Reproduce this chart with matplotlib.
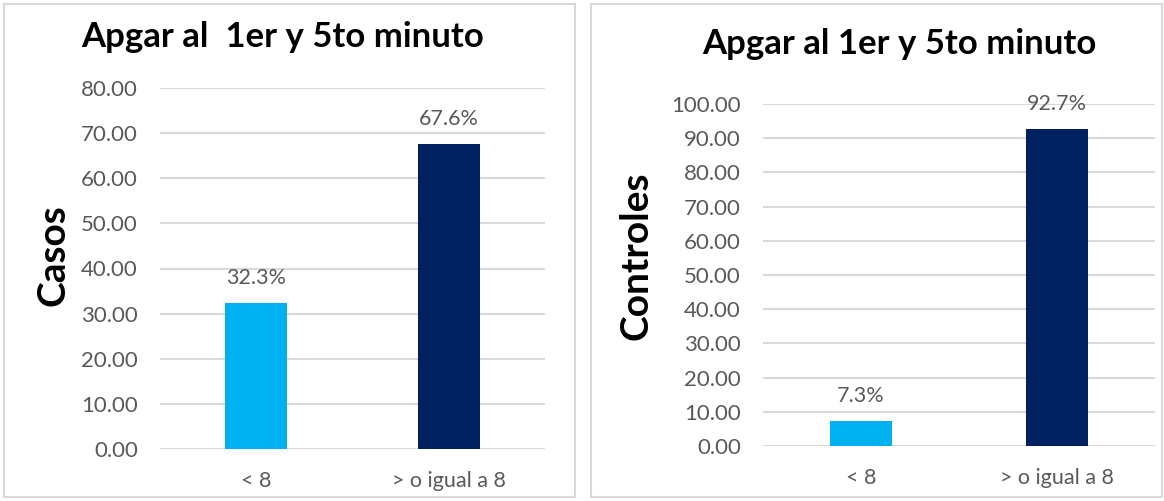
import matplotlib.pyplot as plt
from matplotlib.patches import Rectangle

plt.rcParams['font.family'] = ['Lato', 'DejaVu Sans']

# datos
categorias = ['< 8', '> o igual a 8']
casos = [32.3, 67.6]
controles = [7.3, 92.7]
colores = ['#00B0F0', '#002060']

fig = plt.figure(figsize=(11.64, 5.01), dpi=100)

# marcos de cada grafico
for x0, w in [(4 / 1164, 571 / 1164), (591 / 1164, 571 / 1164)]:
    fig.patches.append(Rectangle((x0, 4 / 501), w, 493 / 501, transform=fig.transFigure,
                                 fill=False, edgecolor='#d9d9d9', linewidth=1.5))


def panel(pos, valores, ymax, ylabel, titulo, tx, ty, lx):
    ax = fig.add_axes(pos)
    ax.bar(range(len(categorias)), valores, width=0.32, color=colores, zorder=3)
    ax.set_xlim(-0.5, 1.5)
    ax.set_ylim(0, ymax)
    ax.set_yticks(range(0, ymax + 1, 10))
    ax.set_yticklabels([f'{v:.2f}' for v in range(0, ymax + 1, 10)])
    ax.set_xticks(range(len(categorias)))
    ax.set_xticklabels(categorias)
    ax.grid(axis='y', color='#d9d9d9', linewidth=1.5, zorder=0)
    for s in ax.spines.values():
        s.set_visible(False)
    ax.tick_params(axis='both', length=0, labelcolor='#595959')
    ax.tick_params(axis='y', pad=16, labelsize=16)
    ax.tick_params(axis='x', pad=16, labelsize=15.5)
    for i, v in enumerate(valores):
        ax.annotate(f'{v}%', (i, v), xytext=(0, 18), textcoords='offset points',
                    ha='center', va='center', fontsize=15.5, color='#595959')
    fig.text(tx, ty, titulo, ha='center', va='center', fontsize=25, fontweight='bold')
    fig.text(lx, 0.49, ylabel, rotation=90, ha='center', va='center',
             fontsize=28, fontweight='bold')
    return ax


panel([160 / 1164, 1 - 449 / 501, 385 / 1164, 361 / 501], casos, 80, 'Casos',
      'Apgar al  1er y 5to minuto', 283 / 1164, 1 - 37 / 501, 53 / 1164)
panel([763 / 1164, 1 - 446 / 501, 392 / 1164, 342 / 501], controles, 100, 'Controles',
      'Apgar al 1er y 5to minuto', 899 / 1164, 1 - 44 / 501, 636 / 1164)

fig.savefig('out.png', dpi=100)
